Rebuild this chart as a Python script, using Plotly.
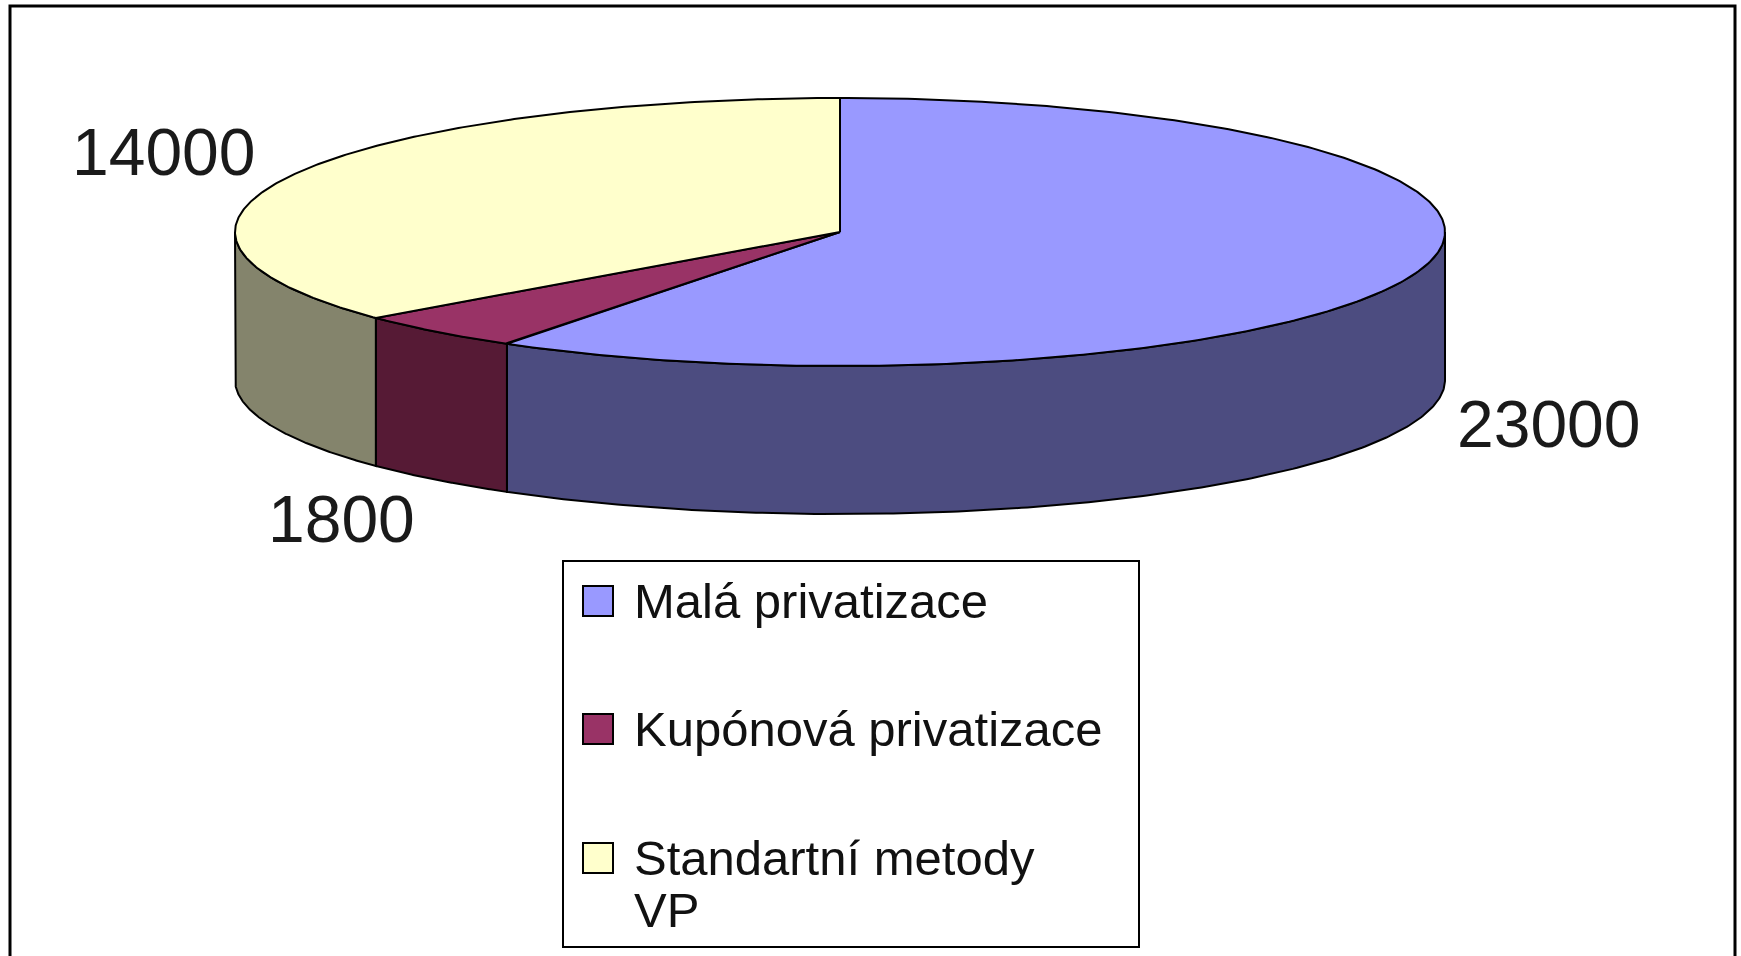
import numpy as np
import plotly.graph_objects as go

# ---- data ----
categories = ["Malá privatizace", "Kupónová privatizace", "Standartní metody<br>VP"]
values = [23000, 1800, 14000]
value_labels = ["23000", "1800", "14000"]
top_colors = ["#9999FF", "#993366", "#FFFFCC"]
side_colors = ["#4C4C80", "#561A35", "#84846C"]

# ---- geometry (pixels) ----
W, H = 1741, 956
cx, cy, rx, ry, depth = 840, 232, 605, 134, 148

def pt(theta_deg, dy=0.0):
    t = np.radians(theta_deg)
    return cx + rx * np.sin(t), cy - ry * np.cos(t) + dy

total = float(sum(values))
bounds = np.concatenate([[0.0], np.cumsum(values) / total * 360.0])

fig = go.Figure()

# walls (front-facing part: 90..270 deg clockwise from top)
for i in range(len(values)):
    a, b = max(bounds[i], 90.0), min(bounds[i + 1], 270.0)
    if b <= a:
        continue
    th = np.linspace(a, b, 200)
    xt, yt = pt(th)
    xb, yb = pt(th[::-1], depth)
    xs = np.concatenate([xt, xb, [xt[0]]])
    ys = np.concatenate([yt, yb, [yt[0]]])
    fig.add_trace(go.Scatter(x=xs, y=ys, mode="lines", fill="toself",
                             fillcolor=side_colors[i],
                             line=dict(color="black", width=2),
                             hoverinfo="skip", showlegend=False))

# top faces
for i in range(len(values)):
    th = np.linspace(bounds[i], bounds[i + 1], 300)
    xa, ya = pt(th)
    xs = np.concatenate([[cx], xa, [cx]])
    ys = np.concatenate([[cy], ya, [cy]])
    fig.add_trace(go.Scatter(x=xs, y=ys, mode="lines", fill="toself",
                             fillcolor=top_colors[i],
                             line=dict(color="black", width=2),
                             hoverinfo="skip", showlegend=False))

# value labels
label_pos = [(1549, 424), (341, 519), (164, 152)]
annotations = []
for lab, (lx, ly) in zip(value_labels, label_pos):
    annotations.append(dict(x=lx, y=ly, xref="x", yref="y", text=lab,
                            showarrow=False, xanchor="center", yanchor="middle",
                            font=dict(family="Liberation Sans, Arial", size=66,
                                      color="#1a1a1a")))

# legend (manual)
shapes = [
    dict(type="rect", xref="x", yref="y", x0=10, y0=6, x1=1735, y1=1000,
         line=dict(color="black", width=3), fillcolor="rgba(0,0,0,0)", layer="below"),
    dict(type="rect", xref="x", yref="y", x0=563, y0=561, x1=1139, y1=947,
         line=dict(color="black", width=2), fillcolor="white", layer="below"),
]
row_y = [601, 729, 858]
for i, cat in enumerate(categories):
    yc = row_y[i]
    shapes.append(dict(type="rect", xref="x", yref="y", x0=583, x1=613,
                       y0=yc - 15, y1=yc + 15,
                       line=dict(color="black", width=2),
                       fillcolor=top_colors[i], layer="above"))
    for j, line in enumerate(cat.split("<br>")):
        annotations.append(dict(x=632, y=yc + j * 52, xref="x", yref="y", text=line,
                                showarrow=False, xanchor="left", yanchor="middle",
                                font=dict(family="Liberation Sans, Arial", size=49,
                                          color="#111111")))

fig.update_layout(
    width=W, height=H, margin=dict(l=0, r=0, t=0, b=0),
    paper_bgcolor="white", plot_bgcolor="white",
    xaxis=dict(range=[0, W], visible=False, fixedrange=True),
    yaxis=dict(range=[H, 0], visible=False, fixedrange=True),
    shapes=shapes, annotations=annotations, showlegend=False,
)

fig.write_html("out.html", config={"displayModeBar": False},
               post_script="document.body.style.margin='0';document.body.style.overflow='hidden';")
